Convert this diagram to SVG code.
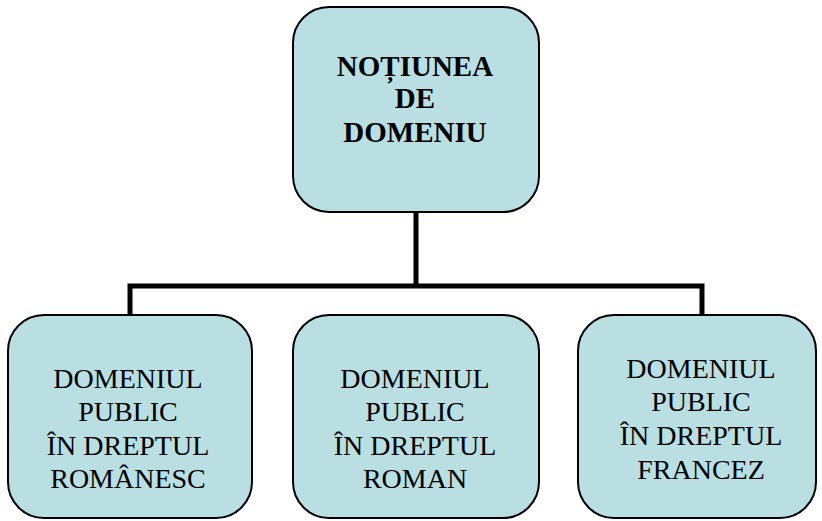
<svg xmlns="http://www.w3.org/2000/svg" width="822" height="521" viewBox="0 0 822 521">
<style>
.box{fill:#badfe3;stroke:#000;stroke-width:2}
text{font-family:'Liberation Serif','Times New Roman',serif;font-size:28px;fill:#000;text-anchor:middle}
.b{font-weight:bold;font-size:29px}
.c{fill:none;stroke:#000;stroke-width:5}
</style>
<rect width="822" height="521" fill="#fff"/>
<g id="connectors">
<path class="c" d="M416,212 V286 M130,315 V286 H702 V315"/>
</g>
<g id="n0">
<rect class="box" x="293" y="7" width="246" height="205" rx="36"/>
<text class="b" x="415" y="76">NOȚIUNEA</text>
<text class="b" x="415" y="108">DE</text>
<text class="b" x="415" y="142">DOMENIU</text>
</g>
<g id="n1">
<rect class="box" x="8" y="315" width="244" height="203" rx="36"/>
<text x="128" y="388">DOMENIUL</text>
<text x="128" y="421">PUBLIC</text>
<text x="128" y="455">ÎN DREPTUL</text>
<text x="128" y="488">ROMÂNESC</text>
</g>
<g id="n2">
<rect class="box" x="293" y="315" width="246" height="203" rx="36"/>
<text x="415" y="388">DOMENIUL</text>
<text x="415" y="421">PUBLIC</text>
<text x="415" y="455">ÎN DREPTUL</text>
<text x="415" y="488">ROMAN</text>
</g>
<g id="n3">
<rect class="box" x="578" y="315" width="238" height="203" rx="36"/>
<text x="701" y="378">DOMENIUL</text>
<text x="701" y="411">PUBLIC</text>
<text x="701" y="445">ÎN DREPTUL</text>
<text x="701" y="479">FRANCEZ</text>
</g>
</svg>
